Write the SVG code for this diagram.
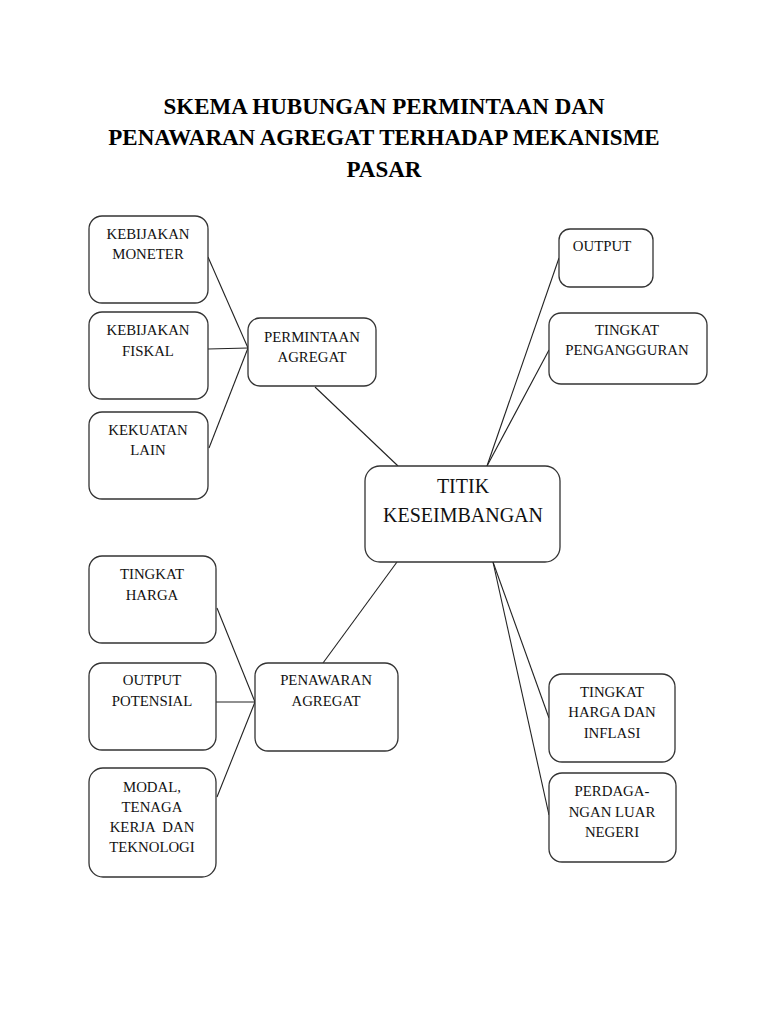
<svg xmlns="http://www.w3.org/2000/svg" width="768" height="1024" viewBox="0 0 768 1024">
<style>
.box{fill:#fff;stroke:#333;stroke-width:1.3}
.t{font-family:"Liberation Serif",serif;font-size:14.8px;fill:#111;text-anchor:middle}
.big{font-family:"Liberation Serif",serif;font-size:20px;fill:#111;text-anchor:middle}
.title{font-family:"Liberation Serif",serif;font-size:23px;font-weight:bold;fill:#000;text-anchor:middle}
.c{stroke:#222;stroke-width:1.1;fill:none}
</style>
<rect width="768" height="1024" fill="#fff"/>
<g id="title">
<text class="title" x="384" y="114">SKEMA HUBUNGAN PERMINTAAN DAN</text>
<text class="title" x="384" y="145">PENAWARAN AGREGAT TERHADAP MEKANISME</text>
<text class="title" x="384" y="177">PASAR</text>
</g>
<g id="connectors">
<line class="c" x1="208" y1="257" x2="248" y2="348"/>
<line class="c" x1="208" y1="349" x2="248" y2="348"/>
<line class="c" x1="209" y1="448" x2="248" y2="348"/>
<line class="c" x1="315" y1="387" x2="398" y2="466"/>
<line class="c" x1="559" y1="258" x2="487" y2="466"/>
<line class="c" x1="549" y1="350" x2="487" y2="466"/>
<line class="c" x1="397" y1="562" x2="323" y2="663"/>
<line class="c" x1="217" y1="608" x2="255" y2="702"/>
<line class="c" x1="216" y1="702" x2="255" y2="702"/>
<line class="c" x1="217" y1="797" x2="255" y2="702"/>
<line class="c" x1="493" y1="562" x2="549" y2="718"/>
<line class="c" x1="493" y1="562" x2="549" y2="815"/>
</g>
<g id="kebijakan-moneter">
<rect class="box" x="89" y="216" width="119" height="87" rx="13"/>
<text class="t" x="148" y="239">KEBIJAKAN</text>
<text class="t" x="148" y="259">MONETER</text>
</g>
<g id="kebijakan-fiskal">
<rect class="box" x="89" y="312" width="119" height="87" rx="13"/>
<text class="t" x="148" y="335">KEBIJAKAN</text>
<text class="t" x="148" y="356">FISKAL</text>
</g>
<g id="kekuatan-lain">
<rect class="box" x="89" y="412" width="119" height="87" rx="13"/>
<text class="t" x="148" y="435">KEKUATAN</text>
<text class="t" x="148" y="455">LAIN</text>
</g>
<g id="permintaan-agregat">
<rect class="box" x="248" y="318" width="128" height="68" rx="12"/>
<text class="t" x="312" y="342">PERMINTAAN</text>
<text class="t" x="312" y="362">AGREGAT</text>
</g>
<g id="output">
<rect class="box" x="559" y="229" width="94" height="58" rx="11"/>
<text class="t" x="602" y="251">OUTPUT</text>
</g>
<g id="tingkat-pengangguran">
<rect class="box" x="549" y="313" width="158" height="71" rx="12"/>
<text class="t" x="627" y="335">TINGKAT</text>
<text class="t" x="627" y="355">PENGANGGURAN</text>
</g>
<g id="titik-keseimbangan">
<rect class="box" x="365" y="466" width="195" height="96" rx="15"/>
<text class="big" x="463" y="493">TITIK</text>
<text class="big" x="463" y="522">KESEIMBANGAN</text>
</g>
<g id="tingkat-harga">
<rect class="box" x="89" y="556" width="127" height="87" rx="13"/>
<text class="t" x="152" y="579">TINGKAT</text>
<text class="t" x="152" y="600">HARGA</text>
</g>
<g id="output-potensial">
<rect class="box" x="89" y="663" width="127" height="87" rx="13"/>
<text class="t" x="152" y="685">OUTPUT</text>
<text class="t" x="152" y="706">POTENSIAL</text>
</g>
<g id="modal">
<rect class="box" x="89" y="768" width="127" height="109" rx="14"/>
<text class="t" x="152" y="792">MODAL,</text>
<text class="t" x="152" y="812">TENAGA</text>
<text class="t" x="152" y="832" xml:space="preserve">KERJA  DAN</text>
<text class="t" x="152" y="852">TEKNOLOGI</text>
</g>
<g id="penawaran-agregat">
<rect class="box" x="255" y="663" width="143" height="88" rx="13"/>
<text class="t" x="326" y="685">PENAWARAN</text>
<text class="t" x="326" y="706">AGREGAT</text>
</g>
<g id="tingkat-harga-inflasi">
<rect class="box" x="549" y="674" width="126" height="88" rx="13"/>
<text class="t" x="612" y="697">TINGKAT</text>
<text class="t" x="612" y="717">HARGA DAN</text>
<text class="t" x="612" y="738">INFLASI</text>
</g>
<g id="perdagangan">
<rect class="box" x="549" y="773" width="127" height="89" rx="13"/>
<text class="t" x="612" y="796">PERDAGA-</text>
<text class="t" x="612" y="817">NGAN LUAR</text>
<text class="t" x="612" y="837">NEGERI</text>
</g>
</svg>
